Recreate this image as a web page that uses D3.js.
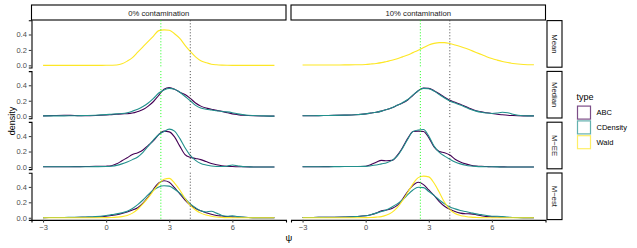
<!DOCTYPE html>
<html><head><meta charset="utf-8">
<script src="https://cdn.jsdelivr.net/npm/d3@7"></script>
<style>body{margin:0;background:#fff} svg{display:block;font-family:"Liberation Sans",Arial,Helvetica,sans-serif}</style>
</head><body><svg id="c" width="637" height="248"></svg>
<script>
// shared evaluation grid for psi
const psi = [-3,-2.5,-2,-1.5,-1,-0.5,0,0.25,0.5,0.75,1,1.25,1.5,1.75,2,2.25,2.5,2.75,3,3.25,3.5,3.75,4,4.25,4.5,4.75,5,5.25,5.5,5.75,6,6.25,6.5,6.75,7,7.5,8];
const facetCols = ["0% contamination","10% contamination"];
const facetRows = ["Mean","Median","M−EE","M−est"];
const types = ["ABC","CDensity","Wald"];
const typeColors = ["#440154","#21908C","#FDE725"];
const xTicks = [-3,0,3,6];
const yTicks = [0,0.2,0.4];
const refGreen = 2.6;
const refBlack = 4;

// Mean
const waldMean0  = [0,0,0,0,0,0,0.001,0.002,0.005,0.02,0.055,0.1,0.17,0.24,0.31,0.38,0.45,0.46,0.455,0.41,0.35,0.26,0.18,0.11,0.06,0.035,0.015,0.007,0.003,0.001,0,0,0,0,0,0,0];
const waldMean10 = [0.004,0.004,0.004,0.005,0.006,0.008,0.012,0.018,0.025,0.035,0.05,0.065,0.085,0.11,0.135,0.165,0.195,0.23,0.265,0.285,0.295,0.295,0.283,0.265,0.245,0.222,0.195,0.168,0.14,0.112,0.088,0.068,0.05,0.036,0.025,0.012,0.008];
// Median
const abcMedian0 = [0.003,0.008,0.012,0.008,0.005,0.008,0.015,0.02,0.025,0.03,0.032,0.04,0.06,0.085,0.13,0.19,0.27,0.35,0.37,0.35,0.31,0.28,0.23,0.17,0.13,0.105,0.09,0.075,0.062,0.045,0.03,0.02,0.012,0.008,0.005,0.002,0];
const cdMedian0  = [0.003,0.003,0.004,0.005,0.008,0.012,0.02,0.025,0.03,0.035,0.045,0.065,0.09,0.125,0.17,0.23,0.3,0.34,0.36,0.35,0.31,0.255,0.2,0.14,0.105,0.09,0.08,0.07,0.06,0.055,0.045,0.03,0.02,0.012,0.008,0.003,0];
const abcMedian10 = [0.005,0.006,0.008,0.01,0.013,0.018,0.03,0.04,0.05,0.065,0.085,0.11,0.14,0.17,0.21,0.27,0.33,0.365,0.36,0.33,0.29,0.245,0.205,0.18,0.155,0.125,0.095,0.07,0.055,0.045,0.035,0.025,0.018,0.012,0.008,0.004,0.003];
const cdMedian10  = [0.005,0.006,0.008,0.01,0.013,0.018,0.03,0.04,0.05,0.065,0.085,0.11,0.14,0.175,0.215,0.275,0.33,0.36,0.355,0.325,0.28,0.235,0.195,0.17,0.145,0.115,0.085,0.065,0.05,0.04,0.035,0.04,0.05,0.045,0.025,0.006,0.003];
// M-EE
const abcMEE0 = [0.003,0.003,0.003,0.004,0.005,0.007,0.01,0.015,0.04,0.08,0.12,0.16,0.185,0.22,0.28,0.34,0.42,0.465,0.455,0.39,0.27,0.16,0.125,0.11,0.095,0.07,0.045,0.028,0.015,0.008,0.005,0.003,0.002,0.001,0,0,0];
const cdMEE0  = [0.002,0.002,0.002,0.003,0.003,0.004,0.006,0.01,0.02,0.04,0.065,0.095,0.13,0.19,0.27,0.35,0.42,0.46,0.49,0.465,0.37,0.25,0.15,0.085,0.045,0.025,0.012,0.006,0.005,0.01,0.025,0.015,0.004,0.002,0,0,0];
const abcMEE10 = [0.002,0.003,0.004,0.005,0.006,0.006,0.01,0.03,0.06,0.085,0.08,0.085,0.15,0.25,0.37,0.46,0.465,0.46,0.38,0.26,0.2,0.185,0.155,0.1,0.065,0.04,0.022,0.012,0.007,0.005,0.003,0.002,0.001,0,0,0,0];
const cdMEE10  = [0.002,0.002,0.003,0.004,0.005,0.006,0.008,0.015,0.025,0.04,0.055,0.085,0.14,0.24,0.36,0.46,0.48,0.485,0.4,0.27,0.19,0.14,0.1,0.065,0.04,0.022,0.012,0.007,0.004,0.003,0.002,0.001,0,0,0,0,0];
// M-est
const abcMest0  = [0.002,0.003,0.003,0.004,0.006,0.01,0.02,0.03,0.04,0.055,0.075,0.1,0.13,0.19,0.27,0.37,0.45,0.48,0.46,0.39,0.31,0.23,0.165,0.12,0.09,0.065,0.045,0.03,0.022,0.015,0.012,0.008,0.005,0.003,0.002,0.001,0];
const cdMest0   = [0.002,0.003,0.004,0.006,0.01,0.015,0.03,0.04,0.05,0.065,0.085,0.12,0.17,0.23,0.3,0.36,0.4,0.415,0.41,0.37,0.32,0.25,0.18,0.13,0.09,0.075,0.085,0.06,0.03,0.02,0.025,0.015,0.008,0.004,0.002,0.001,0];
const waldMest0 = [0,0,0,0,0,0,0.002,0.004,0.008,0.015,0.03,0.06,0.11,0.18,0.26,0.35,0.44,0.5,0.51,0.45,0.36,0.25,0.16,0.1,0.06,0.035,0.02,0.01,0.005,0.002,0.001,0,0,0,0,0,0];
const abcMest10  = [0.003,0.004,0.005,0.007,0.01,0.015,0.025,0.04,0.06,0.09,0.1,0.12,0.16,0.24,0.34,0.42,0.46,0.43,0.36,0.29,0.21,0.15,0.11,0.08,0.06,0.052,0.05,0.04,0.025,0.015,0.012,0.01,0.006,0.004,0.003,0.002,0.001];
const cdMest10   = [0.003,0.004,0.005,0.007,0.01,0.015,0.025,0.04,0.06,0.08,0.105,0.14,0.18,0.23,0.3,0.36,0.395,0.39,0.34,0.29,0.23,0.18,0.14,0.115,0.095,0.08,0.065,0.05,0.04,0.03,0.02,0.02,0.015,0.008,0.004,0.002,0.001];
const waldMest10 = [0,0,0,0,0,0,0.002,0.004,0.008,0.015,0.035,0.07,0.13,0.22,0.33,0.44,0.52,0.54,0.53,0.45,0.33,0.2,0.11,0.055,0.03,0.017,0.008,0.004,0.002,0.001,0,0,0,0,0,0,0];

const series = [
  {col:0,row:0,type:"Wald",values:waldMean0},
  {col:1,row:0,type:"Wald",values:waldMean10},
  {col:0,row:1,type:"ABC",values:abcMedian0},
  {col:0,row:1,type:"CDensity",values:cdMedian0},
  {col:1,row:1,type:"ABC",values:abcMedian10},
  {col:1,row:1,type:"CDensity",values:cdMedian10},
  {col:0,row:2,type:"ABC",values:abcMEE0},
  {col:0,row:2,type:"CDensity",values:cdMEE0},
  {col:1,row:2,type:"ABC",values:abcMEE10},
  {col:1,row:2,type:"CDensity",values:cdMEE10},
  {col:0,row:3,type:"ABC",values:abcMest0},
  {col:0,row:3,type:"CDensity",values:cdMest0},
  {col:0,row:3,type:"Wald",values:waldMest0},
  {col:1,row:3,type:"ABC",values:abcMest10},
  {col:1,row:3,type:"CDensity",values:cdMest10},
  {col:1,row:3,type:"Wald",values:waldMest10}
];

const svg = d3.select("#c");
const color = d3.scaleOrdinal().domain(types).range(typeColors);
const colX = [31.5, 291];
const panelW = 254.5;
const rowTop = 20.3, rowStep = 50.8, panelH = 47.2;
const xScales = colX.map(x0 => d3.scaleLinear().domain([-3.55, 8.55]).range([x0, x0 + panelW]));
const yScales = facetRows.map((_, r) => d3.scaleLinear().domain([-0.0278, 0.584]).range([rowTop + r*rowStep + panelH, rowTop + r*rowStep]));
const tickCol = "#4D4D4D";

// top strips
facetCols.forEach((lab, c) => {
  svg.append("rect").attr("x", colX[c]).attr("y", 5).attr("width", panelW).attr("height", 15)
    .attr("fill", "#fff").attr("stroke", "#000").attr("stroke-width", 1.1);
  svg.append("text").attr("x", colX[c] + panelW/2).attr("y", 15.5).attr("text-anchor", "middle")
    .attr("font-size", 7.7).attr("fill", "#1A1A1A").text(lab);
});
// right strips
facetRows.forEach((lab, r) => {
  const y0 = rowTop + r*rowStep;
  svg.append("rect").attr("x", 547).attr("y", y0 + 0.3).attr("width", 15).attr("height", panelH - 0.6)
    .attr("fill", "#fff").attr("stroke", "#000").attr("stroke-width", 1.1);
  svg.append("text").attr("transform", `translate(${551.8},${y0 + panelH/2}) rotate(90)`)
    .attr("text-anchor", "middle").attr("font-size", 7.7).attr("fill", "#1A1A1A").text(lab);
});

const line = d3.line().curve(d3.curveMonotoneX);

facetRows.forEach((_, r) => {
  facetCols.forEach((__, c) => {
    const xs = xScales[c], ys = yScales[r];
    const g = svg.append("g");
    series.filter(s => s.row === r && s.col === c)
      .sort((a, b) => types.indexOf(a.type) - types.indexOf(b.type))
      .forEach(s => {
        g.append("path").attr("d", line(psi.map((p, i) => [xs(p), ys(s.values[i])])))
          .attr("fill", "none").attr("stroke", color(s.type)).attr("stroke-width", 1.1);
      });
    // reference lines
    [[refGreen, "#00FF00"], [refBlack, "#333"]].forEach(([v, col]) => {
      g.append("line").attr("x1", xs(v)).attr("x2", xs(v)).attr("y1", ys.range()[1]).attr("y2", ys.range()[0])
        .attr("stroke", col).attr("stroke-width", 0.9).attr("stroke-dasharray", "1,2");
    });
  });
  // left axis
  const ya = svg.append("g").attr("transform", `translate(${colX[0]},0)`)
    .call(d3.axisLeft(yScales[r]).tickValues(yTicks).tickFormat(d3.format(".1f")).tickSize(2.7).tickPadding(2));
  ya.select(".domain").attr("stroke", "#000").attr("stroke-width", 1.1);
  ya.selectAll(".tick line").attr("stroke", "#333");
  ya.selectAll(".tick text").attr("font-size", 7.5).attr("fill", tickCol).attr("font-family", null);
});

// bottom axes
colX.forEach((x0, c) => {
  const bottom = rowTop + 3*rowStep + panelH;
  const xa = svg.append("g").attr("transform", `translate(0,${bottom})`)
    .call(d3.axisBottom(xScales[c]).tickValues(xTicks).tickFormat(d => d < 0 ? "−" + Math.abs(d) : d).tickSize(2.7).tickPadding(2));
  xa.select(".domain").attr("stroke", "#000").attr("stroke-width", 1.1);
  xa.selectAll(".tick line").attr("stroke", "#333");
  xa.selectAll(".tick text").attr("font-size", 7.5).attr("fill", tickCol).attr("font-family", null);
});

// axis titles
svg.append("text").attr("x", 289).attr("y", 241).attr("text-anchor", "middle").attr("font-size", 9.5).attr("fill", "#000").text("ψ");
svg.append("text").attr("transform", "translate(15,121) rotate(-90)").attr("text-anchor", "middle")
  .attr("font-size", 9).attr("fill", "#000").text("density");

// legend
const lg = svg.append("g");
lg.append("text").attr("x", 576.5).attr("y", 100).attr("font-size", 9).attr("fill", "#000").text("type");
types.forEach((t, i) => {
  const y = 105.3 + i*14.8;
  lg.append("rect").attr("x", 577.5).attr("y", y + 0.8).attr("width", 13).attr("height", 13)
    .attr("fill", "#fff").attr("stroke", color(t)).attr("stroke-opacity", 0.7).attr("stroke-width", 1.2);
  lg.append("text").attr("x", 596.5).attr("y", y + 10).attr("font-size", 7.5).attr("fill", "#000").text(t);
});
</script></body></html>
